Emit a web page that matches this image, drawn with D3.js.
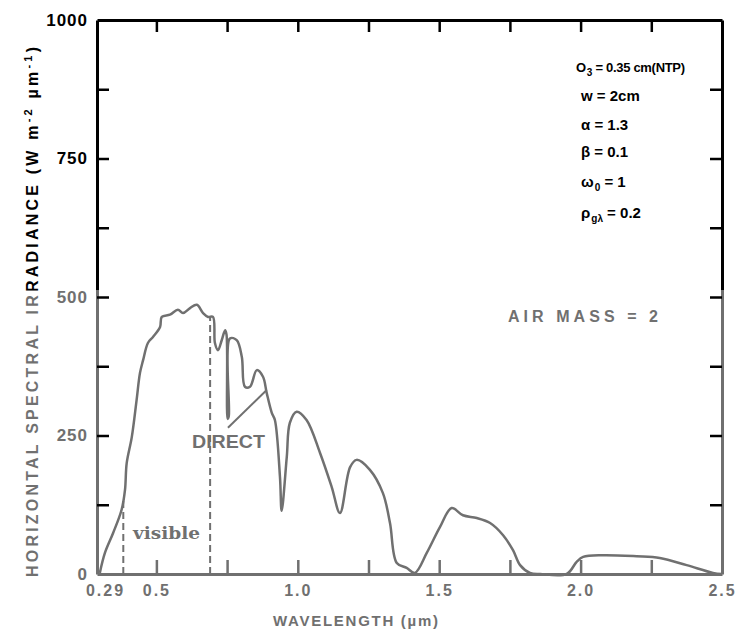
<!DOCTYPE html>
<html>
<head>
<meta charset="utf-8">
<script src="https://cdn.jsdelivr.net/npm/d3@7"></script>
<style>
  body { margin: 0; background: #fff; }
  svg { display: block; font-family: "Liberation Sans", Arial, sans-serif; font-weight: bold; }
</style>
</head>
<body>
<div id="chart"></div>
<script>
// global horizontal irradiance at air mass 2
const wavelength = [0.300, 0.318, 0.347, 0.377, 0.389, 0.395, 0.413, 0.430, 0.442, 0.453,
  0.470, 0.488, 0.513, 0.519, 0.548, 0.576, 0.594, 0.619, 0.643, 0.665,
  0.683, 0.700, 0.707, 0.718, 0.731, 0.743, 0.748, 0.752, 0.756, 0.760,
  0.784, 0.802, 0.813, 0.831, 0.855, 0.877, 0.890, 0.908, 0.919, 0.937,
  0.943, 0.961, 0.972, 0.996, 1.031, 1.079, 1.120, 1.149, 1.185, 1.208,
  1.255, 1.301, 1.326, 1.350, 1.385, 1.414, 1.456, 1.503, 1.544, 1.584,
  1.633, 1.680, 1.726, 1.761, 1.786, 1.821, 1.857, 1.951, 1.986, 2.009,
  2.079, 2.198, 2.280, 2.375, 2.468, 2.500];
const irradiance = [2, 38, 74, 116, 152, 200, 247, 314, 363, 386,
  417, 428, 446, 464, 468, 477, 471, 480, 486, 471,
  464, 464, 417, 404, 422, 440, 432, 280, 285, 425,
  422, 392, 338, 338, 368, 356, 327, 291, 278, 175,
  114, 211, 273, 293, 278, 218, 157, 110, 193, 206,
  188, 146, 92, 20, 11, 2, 38, 85, 119, 106,
  101, 92, 70, 43, 16, 2, 0, 0, 22, 31,
  34, 32, 29, 16, 2, 0];

const xTickValues = [0.5, 0.75, 1.0, 1.25, 1.5, 1.75, 2.0, 2.25];
const xLabelValues = [0.29, 0.5, 1.0, 1.5, 2.0, 2.5];
const xLabelText = ["0.29", "0.5", "1.0", "1.5", "2.0", "2.5"];
const yTickValues = [125, 250, 375, 500, 625, 750, 875];
const yLabelValues = [0, 250, 500, 750, 1000];

// edges of the visible band (dashed lines)
const visibleBand = [0.383, 0.69];
// leader from the DIRECT label to the curve
const directPointer = [[0.753, 264], [0.89, 332]];

// atmosphere parameters printed top right
const paramSymbols = ["O", "w", "α", "β", "ω", "ρ"];
const paramSubs = ["3", "", "", "", "0", "gλ"];
const paramValues = [" = 0.35 cm(NTP)", " = 2cm", " = 1.3", " = 0.1", " = 1", " = 0.2"];

const width = 746;
const height = 636;
const margin = {top: 20, right: 24, bottom: 62, left: 97};
const fadeY = 290;          // the scan is washed out below this line
const ink = '#000';
const faded = '#707070';

const x = d3.scaleLinear().domain([0.29, 2.5]).range([margin.left, width - margin.right]);
const y = d3.scaleLinear().domain([0, 1000]).range([height - margin.bottom, margin.top]);

const svg = d3.select('#chart')
  .append('svg')
  .attr('width', width)
  .attr('height', height);

const defs = svg.append('defs');
const scan = defs.append('linearGradient')
  .attr('id', 'scan')
  .attr('gradientUnits', 'userSpaceOnUse')
  .attr('x1', 0).attr('y1', 0).attr('x2', 0).attr('y2', height);
scan.append('stop').attr('offset', 0).attr('stop-color', ink);
scan.append('stop').attr('offset', fadeY / height).attr('stop-color', ink);
scan.append('stop').attr('offset', fadeY / height).attr('stop-color', faded);
scan.append('stop').attr('offset', 1).attr('stop-color', faded);

// ticks all point inward
function styleAxis(g, stroke) {
  g.select('.domain').attr('stroke', stroke).attr('stroke-width', 3);
  g.selectAll('.tick line').attr('stroke', stroke).attr('stroke-width', 2.5);
}

svg.append('g')
  .attr('transform', `translate(${margin.left},0)`)
  .call(d3.axisLeft(y).tickValues(yTickValues).tickSize(-12).tickSizeOuter(0).tickFormat(''))
  .call(g => styleAxis(g, 'url(#scan)'));

svg.append('g')
  .attr('transform', `translate(${width - margin.right},0)`)
  .call(d3.axisRight(y).tickValues(yTickValues).tickSize(-12).tickSizeOuter(0).tickFormat(''))
  .call(g => styleAxis(g, 'url(#scan)'));

svg.append('g')
  .attr('transform', `translate(0,${margin.top})`)
  .call(d3.axisTop(x).tickValues(xTickValues).tickSize(-12).tickSizeOuter(0).tickFormat(''))
  .call(g => styleAxis(g, ink));

svg.append('g')
  .attr('transform', `translate(0,${height - margin.bottom})`)
  .call(d3.axisBottom(x).tickValues(xTickValues).tickSize(-14).tickSizeOuter(0).tickFormat(''))
  .call(g => styleAxis(g, faded));

// tick labels
const xLabels = svg.append('g')
  .attr('transform', `translate(0,${height - margin.bottom})`)
  .call(d3.axisBottom(x).tickValues(xLabelValues).tickSize(0).tickPadding(11)
    .tickFormat((d, i) => xLabelText[i]));
xLabels.select('.domain').remove();
xLabels.selectAll('text')
  .attr('font-family', '"Liberation Sans", Arial, sans-serif')
  .attr('font-weight', 'bold')
  .attr('font-size', 16)
  .attr('letter-spacing', 2)
  .attr('fill', faded)
  .attr('dx', (d, i) => i === 0 ? 8 : 0);

const yLabels = svg.append('g')
  .attr('transform', `translate(${margin.left},0)`)
  .call(d3.axisLeft(y).tickValues(yLabelValues).tickSize(0).tickPadding(9).tickFormat(d3.format('d')));
yLabels.select('.domain').remove();
yLabels.selectAll('text')
  .attr('font-family', '"Liberation Sans", Arial, sans-serif')
  .attr('font-weight', 'bold')
  .attr('font-size', 17)
  .attr('letter-spacing', 1)
  .attr('fill', d => y(d) < fadeY ? ink : faded);

// axis titles
const rot = defs.append('linearGradient')
  .attr('id', 'scanRot')
  .attr('gradientUnits', 'userSpaceOnUse')
  .attr('x1', -300).attr('y1', 0).attr('x2', 300).attr('y2', 0);
const titleCy = 312;
const split = (titleCy - fadeY + 300) / 600;
rot.append('stop').attr('offset', 0).attr('stop-color', faded);
rot.append('stop').attr('offset', split).attr('stop-color', faded);
rot.append('stop').attr('offset', split).attr('stop-color', ink);
rot.append('stop').attr('offset', 1).attr('stop-color', ink);

const yTitle = svg.append('text')
  .attr('transform', `translate(38,${titleCy}) rotate(-90)`)
  .attr('text-anchor', 'middle')
  .attr('font-size', 16)
  .attr('textLength', 530)
  .attr('lengthAdjust', 'spacing')
  .attr('fill', 'url(#scanRot)');
yTitle.append('tspan').text('HORIZONTAL SPECTRAL IRRADIANCE (W m');
yTitle.append('tspan').attr('dy', -6).attr('font-size', 11).text('-2');
yTitle.append('tspan').attr('dy', 6).text(' µm');
yTitle.append('tspan').attr('dy', -6).attr('font-size', 11).text('-1');
yTitle.append('tspan').attr('dy', 6).text(')');

svg.append('text')
  .attr('x', 273)
  .attr('y', 626)
  .attr('font-size', 15)
  .attr('textLength', 165)
  .attr('lengthAdjust', 'spacing')
  .attr('fill', faded)
  .text('WAVELENGTH   (µm)');

// spectrum
const line = d3.line()
  .x((d, i) => x(wavelength[i]))
  .y(d => y(d))
  .curve(d3.curveCatmullRom.alpha(0.5));

svg.append('path')
  .datum(irradiance)
  .attr('d', line)
  .attr('fill', 'none')
  .attr('stroke', faded)
  .attr('stroke-width', 2.5)
  .attr('stroke-linejoin', 'round');

// dashed visible band edges, from the axis up to the curve
function valueAt(w) {
  const i = d3.bisectLeft(wavelength, w);
  const t = (w - wavelength[i - 1]) / (wavelength[i] - wavelength[i - 1]);
  return irradiance[i - 1] + t * (irradiance[i] - irradiance[i - 1]);
}

svg.selectAll('.band-edge')
  .data(visibleBand)
  .enter()
  .append('line')
  .attr('class', 'band-edge')
  .attr('x1', d => x(d)).attr('x2', d => x(d))
  .attr('y1', y(0)).attr('y2', d => y(valueAt(d)))
  .attr('stroke', faded)
  .attr('stroke-width', 2)
  .attr('stroke-dasharray', '7,4');

svg.append('text')
  .attr('x', 133)
  .attr('y', 539)
  .attr('font-family', '"DejaVu Serif", "Liberation Serif", serif')
  .attr('font-size', 16)
  .attr('textLength', 67)
  .attr('lengthAdjust', 'spacingAndGlyphs')
  .attr('fill', faded)
  .text('visible');

svg.append('line')
  .attr('x1', x(directPointer[0][0])).attr('y1', y(directPointer[0][1]))
  .attr('x2', x(directPointer[1][0])).attr('y2', y(directPointer[1][1]))
  .attr('stroke', faded)
  .attr('stroke-width', 2);

svg.append('text')
  .attr('x', 192)
  .attr('y', 448)
  .attr('font-size', 18)
  .attr('textLength', 73)
  .attr('lengthAdjust', 'spacingAndGlyphs')
  .attr('fill', faded)
  .text('DIRECT');

svg.append('text')
  .attr('x', 508)
  .attr('y', 322)
  .attr('font-size', 16)
  .attr('textLength', 150)
  .attr('lengthAdjust', 'spacing')
  .attr('fill', faded)
  .text('AIR MASS = 2');

// parameter block
const rowY = [72, 101, 130, 157, 187, 218];
const params = svg.append('g').attr('fill', ink).attr('font-size', 15);
paramSymbols.forEach((s, i) => {
  const t = params.append('text')
    .attr('x', i === 0 ? 576 : 581)
    .attr('y', rowY[i]);
  t.append('tspan').text(s);
  if (paramSubs[i]) {
    t.append('tspan').attr('dx', 1).attr('dy', 4).attr('font-size', 10).text(paramSubs[i]);
    t.append('tspan').attr('dy', -4).text(paramValues[i]);
  } else {
    t.append('tspan').text(paramValues[i]);
  }
  if (i === 0) t.attr('font-size', 13).attr('letter-spacing', -0.3);
});
</script>
</body>
</html>
